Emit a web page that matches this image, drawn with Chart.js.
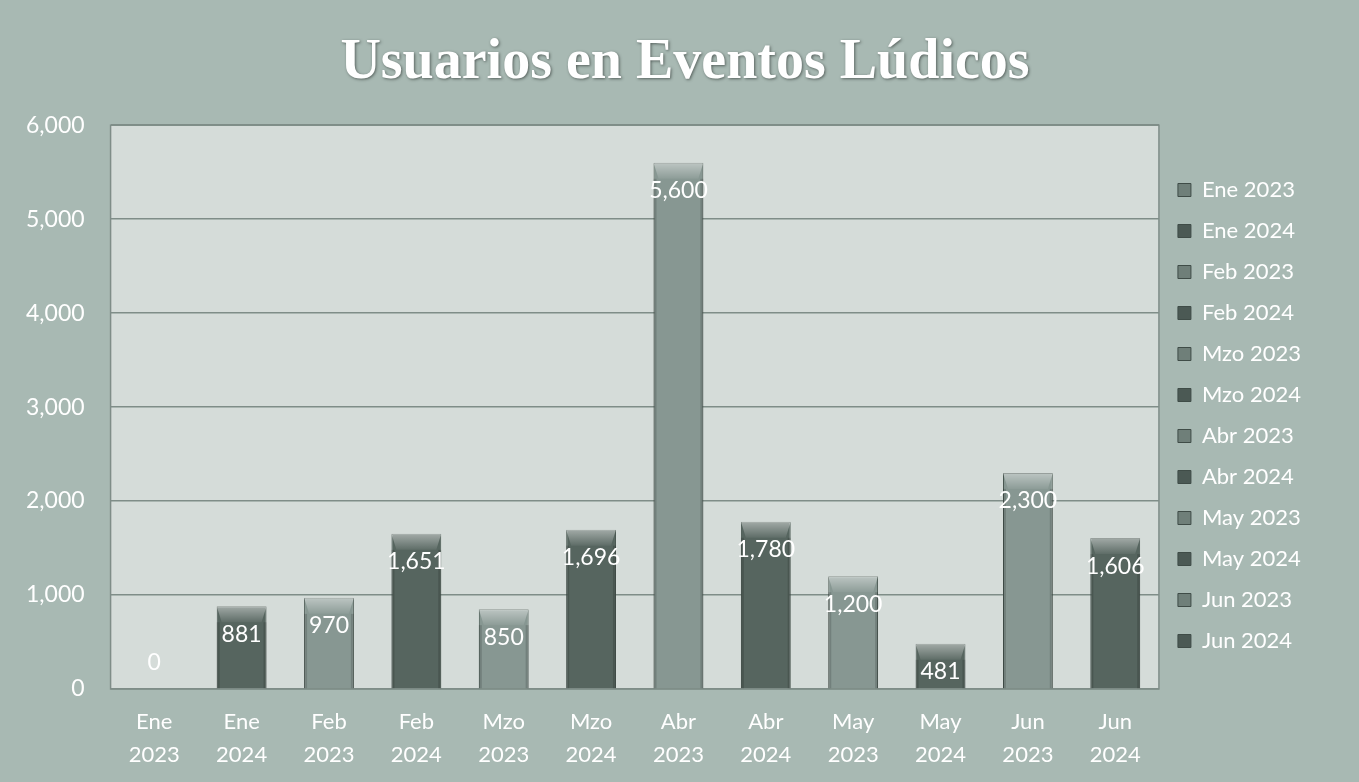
<!DOCTYPE html>
<html>
<head>
<meta charset="utf-8">
<script src="https://cdn.jsdelivr.net/npm/chart.js@4"></script>
<style>
  html, body { margin: 0; padding: 0; background: #a8b9b3; }
  #wrap { width: 1359px; height: 782px; position: relative; }
</style>
</head>
<body>
<div id="wrap"><canvas id="usuarios"></canvas></div>
<script>
const meses = [["Ene", "2023"], ["Ene", "2024"], ["Feb", "2023"], ["Feb", "2024"], ["Mzo", "2023"], ["Mzo", "2024"],
               ["Abr", "2023"], ["Abr", "2024"], ["May", "2023"], ["May", "2024"], ["Jun", "2023"], ["Jun", "2024"]];
const usuarios = [0, 881, 970, 1651, 850, 1696, 5600, 1780, 1200, 481, 2300, 1606];
const yTicks = [0, 1000, 2000, 3000, 4000, 5000, 6000];
const titulo = "Usuarios en Eventos Lúdicos";

const light = "#879792";
const dark = "#56655f";
const colores = meses.map(m => m[1] === "2023" ? light : dark);

// plot area fill
const plotBg = {
    id: "plotBg",
    beforeDraw(chart) {
        const {ctx, chartArea: a} = chart;
        ctx.save();
        ctx.fillStyle = "#d5dcd9";
        ctx.fillRect(a.left, a.top, a.right - a.left, a.bottom - a.top);
        ctx.strokeStyle = "#7f8d88";
        ctx.lineWidth = 1.5;
        ctx.strokeRect(a.left, a.top, a.right - a.left, a.bottom - a.top);
        ctx.restore();
    }
};

// bevel highlight on bar tops + value labels
const barLabels = {
    id: "barLabels",
    afterDatasetsDraw(chart) {
        const {ctx} = chart;
        const meta = chart.getDatasetMeta(0);
        ctx.save();
        meta.data.forEach((bar, i) => {
            const w = bar.width;
            const x0 = bar.x - w / 2;
            const h = bar.base - bar.y;
            if (h > 2) {
                const bev = Math.min(16, h / 2);
                const g = ctx.createLinearGradient(0, bar.y, 0, bar.y + bev);
                g.addColorStop(0, "rgba(255,255,255,0.45)");
                g.addColorStop(1, "rgba(255,255,255,0.05)");
                ctx.fillStyle = g;
                ctx.beginPath();
                ctx.moveTo(x0, bar.y);
                ctx.lineTo(x0 + w, bar.y);
                ctx.lineTo(x0 + w - 5, bar.y + bev);
                ctx.lineTo(x0 + 5, bar.y + bev);
                ctx.closePath();
                ctx.fill();
                ctx.fillStyle = "rgba(0,0,0,0.15)";
                ctx.fillRect(x0, bar.y + bev, 3, h - bev);
                ctx.fillRect(x0 + w - 3, bar.y + bev, 3, h - bev);
            }
            ctx.fillStyle = "#ffffff";
            ctx.font = "23px Lato";
            ctx.textAlign = "center";
            ctx.textBaseline = "middle";
            const ty = h > 2 ? bar.y + 28 : bar.base - 26;
            ctx.fillText(usuarios[i].toLocaleString("en-US"), bar.x, ty);
        });
        ctx.restore();
    }
};

// white title with a dark edge, drawn over the space the title plugin reserves
const titleDraw = {
    id: "titleDraw",
    afterDraw(chart) {
        const {ctx} = chart;
        ctx.save();
        ctx.font = "bold 56px 'Liberation Serif'";
        ctx.textAlign = "center";
        ctx.textBaseline = "alphabetic";
        ctx.shadowColor = "rgba(70,80,76,0.85)";
        ctx.shadowBlur = 3;
        ctx.shadowOffsetX = 1;
        ctx.shadowOffsetY = 1;
        ctx.fillStyle = "#ffffff";
        ctx.fillText(titulo, 685, 78);
        ctx.restore();
    }
};

new Chart(document.getElementById("usuarios"), {
    type: "bar",
    data: {
        labels: meses,
        datasets: [
            {
                label: "Usuarios",
                data: usuarios,
                backgroundColor: colores,
                borderColor: "#47554f",
                borderWidth: 1,
                barPercentage: 0.57,
                categoryPercentage: 1
            }
        ]
    },
    options: {
        responsive: true,
        maintainAspectRatio: false,
        animation: false,
        layout: { padding: { left: 0, right: 48, top: 8, bottom: 3 } },
        scales: {
            x: {
                grid: { display: false },
                border: { display: false },
                ticks: { color: "#ffffff", font: { family: "Lato", size: 22, lineHeight: 1.5 }, maxRotation: 0, padding: 8 }
            },
            y: {
                min: 0,
                max: 6000,
                afterBuildTicks: axis => { axis.ticks = yTicks.map(v => ({value: v})); },
                grid: { color: "#7f8d88", lineWidth: 1.5, drawTicks: false },
                border: { display: false },
                ticks: {
                    color: "#ffffff",
                    font: { family: "Lato", size: 23 },
                    padding: 26,
                    callback: v => v.toLocaleString("en-US")
                }
            }
        },
        plugins: {
            title: {
                display: true,
                text: titulo,
                color: "rgba(0,0,0,0)",
                font: { family: "Liberation Serif", size: 56, weight: "bold" },
                padding: { top: 14, bottom: 36 }
            },
            legend: {
                position: "right",
                title: { display: true, text: "", font: { size: 10 }, padding: { top: 16, bottom: 16 } },
                labels: {
                    color: "#ffffff",
                    font: { family: "Lato", size: 22 },
                    boxWidth: 13,
                    boxHeight: 13,
                    padding: 19,
                    generateLabels: () => meses.map((m, i) => ({
                        text: m.join(" "),
                        fillStyle: m[1] === "2023" ? "#6f7f79" : "#4b5954",
                        strokeStyle: "#3f4c47",
                        lineWidth: 1,
                        fontColor: "#ffffff",
                        index: i
                    }))
                }
            },
            tooltip: { enabled: false }
        }
    },
    plugins: [plotBg, barLabels, titleDraw]
});
</script>
</body>
</html>
